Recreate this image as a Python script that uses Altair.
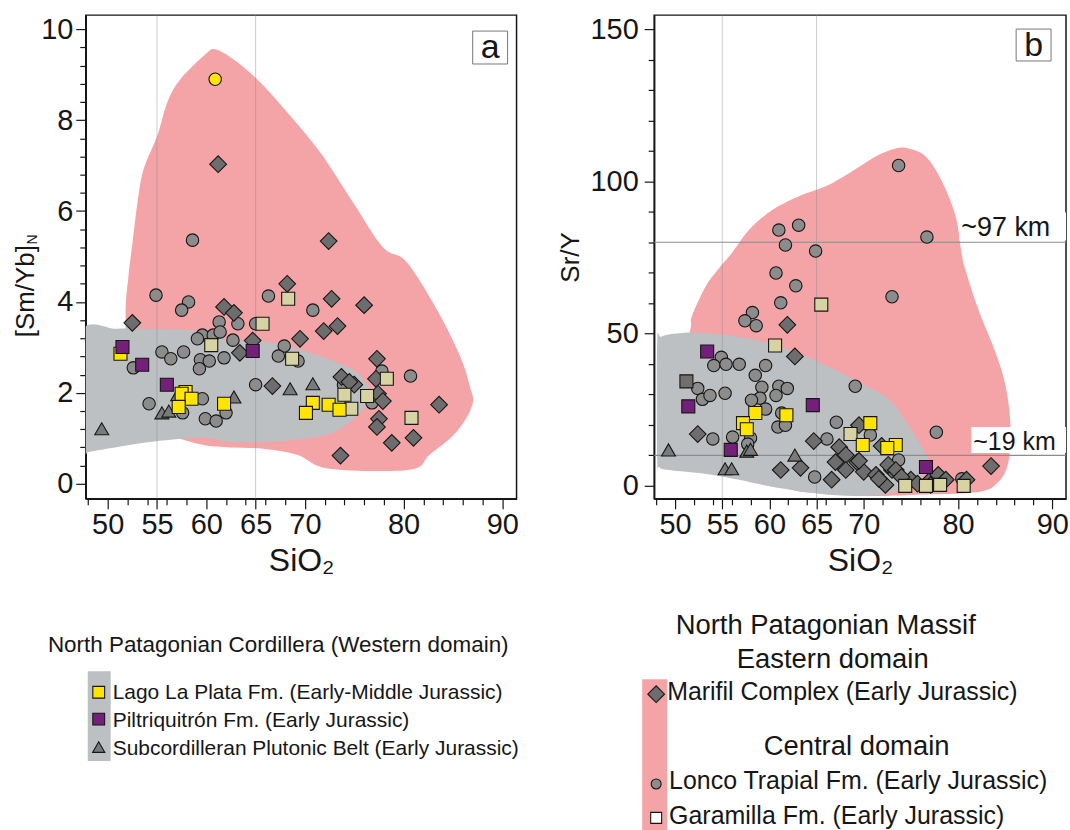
import altair as alt
import pandas as pd

FONT = "Liberation Sans"
INK = "#161616"
PINK = "#F4A3A6"
GREY_FIELD = "#BDC0C2"
C_LONCO = "#8C8C8C"
C_MARIFIL = "#6D6D6D"
C_GARAMILLA = "#D7D3A2"
C_LAGO = "#FFE500"
C_PILTRI = "#74207A"
C_SUBCORD = "#7A7A7A"
C_GREYSQ = "#6F6F6F"

# ---------------- axes ----------------
SIO2_DOMAIN = [47.78, 91.45]
SIO2_TICKS = [48, 50, 52, 54, 55, 56, 58, 60, 62, 64, 65, 66, 68, 70, 72, 74, 76, 78, 80, 82, 84, 86, 88, 90]
SIO2_LABELS = [50, 55, 60, 65, 70, 80, 90]
SIO2_GRID = [55, 65]

SMYB_DOMAIN = [-0.33, 10.31]
SMYB_TICKS = [0, 0.4, 0.8, 1.2, 1.6, 2, 2.4, 2.8, 3.2, 3.6, 4, 4.4, 4.8, 5.2, 5.6, 6,
              6.4, 6.8, 7.2, 7.6, 8, 8.4, 8.8, 9.2, 9.6, 10]
SMYB_LABELS = [0, 2, 4, 6, 8, 10]

SRY_DOMAIN = [-4.25, 154.6]
SRY_TICKS = [0, 10, 20, 30, 40, 50, 60, 70, 80, 90, 100, 110, 120, 130, 140, 150]
SRY_LABELS = [0, 50, 100, 150]

DEPTH_SRY = [80, 10]
DEPTH_LABELS = ["~97 km", "~19 km"]

# ---------------- panel a : [Sm/Yb]N vs SiO2 ----------------
A_EAST_FIELD_SIO2 = [60.91, 62.73, 65.15, 68.18, 71.52, 74.85, 77.88, 80.30, 83.33, 85.66, 86.67, 86.97,
                     85.35, 82.63, 80.61, 72.53, 69.19, 65.76, 62.42, 60.0, 57.5, 55.35, 52.32, 51.82,
                     52.12, 52.53, 53.03, 53.64, 55.05, 56.06, 57.37, 59.90]
A_EAST_FIELD_SMYB = [9.56, 9.34, 8.90, 8.18, 7.30, 6.20, 5.21, 4.88, 3.85, 2.84, 2.18, 1.74,
                     1.14, 0.64, 0.31, 0.33, 0.64, 0.77, 0.80, 0.84, 0.98, 1.14, 1.80, 3.63,
                     4.59, 5.32, 6.20, 6.92, 7.67, 8.40, 8.90, 9.45]
A_WEST_FIELD_SIO2 = [47.2, 51.01, 54.34, 59.39, 62.42, 65.76, 69.19, 72.53, 74.85, 75.86, 76.57, 76.26,
                     74.55, 72.53, 69.19, 65.76, 62.42, 59.39, 54.34, 51.01, 48.08, 47.2]
A_WEST_FIELD_SMYB = [3.27, 3.41, 3.41, 3.36, 3.16, 3.14, 2.97, 2.73, 2.51, 2.31, 2.02, 1.74,
                     1.36, 1.10, 0.97, 0.92, 0.92, 1.01, 0.92, 0.81, 0.70, 0.65]

A_LONCO_SIO2 = [58.6, 54.9, 58.2, 57.5, 61.3, 63.2, 65.0, 59.6, 59.1, 60.7, 61.4, 62.7, 52.6, 55.5, 56.4,
                57.7, 59.4, 59.3, 60.3, 61.8, 65.0, 59.6, 54.2, 57.6, 59.9, 61.0, 62.0, 66.3, 70.8, 67.9,
                67.3, 69.3, 73.9, 77.8, 76.8, 80.7]
A_LONCO_SMYB = [5.36, 4.15, 4.0, 3.82, 3.56, 3.52, 3.52, 3.27, 3.19, 3.27, 3.34, 3.16, 2.55, 2.9, 2.75,
                2.9, 2.73, 2.53, 2.7, 2.77, 2.18, 1.87, 1.76, 1.56, 1.43, 1.38, 1.56, 4.13, 3.82, 3.03,
                2.81, 2.7, 2.18, 2.48, 1.78, 2.37]
A_MARIFIL_SIO2 = [61.2, 72.4, 52.5, 61.8, 62.8, 63.4, 68.2, 72.7, 76.0, 71.9, 73.3, 69.5, 64.7, 66.7,
                  73.7, 75.0, 74.5, 77.3, 77.2, 77.4, 77.9, 77.5, 77.3, 83.6, 78.8, 81.0, 73.6]
A_MARIFIL_SMYB = [7.03, 5.34, 3.54, 3.89, 3.76, 2.88, 4.4, 4.07, 3.93, 3.36, 3.47, 3.19, 3.15, 2.15,
                  2.35, 2.18, 2.24, 2.75, 2.31, 1.98, 1.82, 1.43, 1.25, 1.74, 0.9, 1.01, 0.62]
A_GARAMILLA_SIO2 = [60.5, 68.3, 65.7, 68.7, 74.0, 74.7, 78.3, 76.3, 80.8]
A_GARAMILLA_SMYB = [3.05, 4.07, 3.52, 2.75, 1.96, 1.65, 2.31, 1.93, 1.45]
A_SUBCORD_SIO2 = [57.1, 55.5, 56.2, 62.8, 49.4, 68.5, 70.8]
A_SUBCORD_SMYB = [1.96, 1.56, 1.6, 1.91, 1.21, 2.09, 2.2]
A_LAGO_SIO2 = [51.3, 57.9, 57.5, 58.5, 57.2, 61.8, 70.8, 70.1, 72.4, 73.5]
A_LAGO_SMYB = [2.86, 2.02, 1.98, 1.87, 1.69, 1.76, 1.78, 1.56, 1.74, 1.63]
A_LAGO_CIRCLE_SIO2 = [60.9]
A_LAGO_CIRCLE_SMYB = [8.9]
A_PILTRI_SIO2 = [51.5, 53.5, 56.0, 64.7]
A_PILTRI_SMYB = [3.01, 2.62, 2.18, 2.92]

# ---------------- panel b : Sr/Y vs SiO2 ----------------
B_EAST_FIELD_SIO2 = [51.69, 51.80, 53.28, 54.66, 56.03, 57.83, 60.26, 63.12, 65.98, 68.41, 71.27, 73.39,
                     74.76, 76.56, 78.25, 79.74, 80.37, 80.79, 82.17, 83.97, 85.03, 85.56, 85.34, 84.29,
                     82.17, 75.50, 70.85, 66.30, 62.38, 58.89, 52.54, 51.48, 51.48]
B_EAST_FIELD_SRY = [52.6, 55.9, 65.7, 71.5, 76.5, 84.0, 90.5, 95.1, 98.4, 102.6, 108.2, 110.8,
                    110.8, 108.2, 100.3, 88.6, 76.5, 70.9, 57.8, 43.8, 33.0, 19.9, 7.8, 1.3,
                    -2.0, -2.9, -3.3, -2.6, -1.3, 4.6, 14.4, 27.5, 47.1]
B_WEST_FIELD_SIO2 = [48.10, 48.52, 50.11, 52.54, 56.03, 59.63, 63.12, 66.61, 69.47, 72.65, 74.76, 76.46,
                     76.88, 75.50, 73.17, 69.47, 65.24, 60.26, 56.77, 53.28, 49.37, 48.31, 48.10]
B_WEST_FIELD_SRY = [47.1, 49.0, 50.0, 50.3, 49.3, 47.1, 43.5, 38.6, 34.0, 28.4, 19.6, 11.1,
                    6.2, 1.3, -2.0, -3.3, -2.6, -0.3, 2.0, 3.9, 5.2, 6.2, 9.5]

B_LONCO_SIO2 = [73.7, 61.0, 63.1, 61.7, 64.9, 60.7, 62.8, 61.2, 73.0, 76.7, 58.2, 57.4, 58.6, 54.9, 54.1,
                55.4, 56.8, 59.6, 58.5, 52.4, 52.9, 53.7, 55.3, 59.2, 61.0, 61.9, 60.7, 59.0, 58.1, 59.6,
                61.3, 60.9, 61.7, 54.0, 56.1, 58.0, 57.7, 64.8, 67.1, 69.1, 66.1, 70.7, 77.7, 73.7, 80.4]
B_LONCO_SRY = [105.2, 84.0, 85.6, 79.1, 77.1, 69.9, 65.7, 60.1, 62.1, 81.7, 56.9, 54.2, 52.6, 42.2, 39.5,
               39.9, 39.9, 39.5, 36.3, 32.0, 28.4, 29.7, 30.4, 32.4, 32.7, 32.0, 29.7, 28.8, 28.1, 25.2,
               23.9, 19.3, 19.9, 15.4, 16.0, 15.7, 13.7, 2.9, 20.9, 32.7, 15.4, 16.7, 17.6, 8.5, 2.3]
B_MARIFIL_SIO2 = [61.9, 62.7, 52.4, 61.2, 63.3, 66.6, 64.7, 67.4, 68.1, 67.0, 68.1, 69.5, 71.9, 69.3,
                  70.0, 71.3, 72.3, 73.0, 83.5, 69.5, 71.6, 72.6, 73.4, 75.0, 74.0, 75.7, 77.1, 77.9,
                  78.7, 80.9, 77.1]
B_MARIFIL_SRY = [52.9, 42.5, 17.0, 5.2, 5.9, 2.0, 14.7, 12.7, 10.1, 7.8, 5.2, 19.9, 13.1, 7.8,
                 4.6, 3.6, 0.3, 5.2, 6.5, 8.2, 2.3, 6.9, 5.2, 2.0, 2.9, 0.7, 2.0, 3.6,
                 2.0, 2.0, 0.3]
B_GARAMILLA_SIO2 = [65.5, 60.6, 68.6, 74.4, 76.6, 78.1, 80.6]
B_GARAMILLA_SRY = [59.5, 46.1, 17.0, 0.0, 0.0, 0.3, 0.0]
B_SUBCORD_SIO2 = [57.6, 58.0, 49.3, 55.3, 56.0, 62.7]
B_SUBCORD_SRY = [11.4, 12.0, 11.8, 5.6, 5.6, 10.1]
B_LAGO_SIO2 = [61.8, 58.5, 57.2, 57.6, 70.7, 69.9, 73.4, 72.5]
B_LAGO_SRY = [23.2, 23.9, 20.6, 18.6, 20.6, 13.4, 13.4, 12.4]
B_PILTRI_SIO2 = [53.4, 51.4, 64.6, 55.9, 76.6]
B_PILTRI_SRY = [44.1, 26.1, 26.5, 11.8, 6.2]
B_GREYSQ_SIO2 = [51.2]
B_GREYSQ_SRY = [34.3]

# ---------------- legend texts ----------------
LEG_W_TITLE = "North Patagonian Cordillera (Western domain)"
LEG_W_ITEMS = ["Lago La Plata Fm. (Early-Middle Jurassic)",
               "Piltriquitrón Fm. (Early Jurassic)",
               "Subcordilleran Plutonic Belt (Early Jurassic)"]
LEG_E_HEAD = ["North Patagonian Massif", "Eastern domain"]
LEG_E_ITEMS = ["Marifil Complex (Early Jurassic)"]
LEG_C_HEAD = "Central domain"
LEG_C_ITEMS = ["Lonco Trapial Fm. (Early Jurassic)", "Garamilla Fm. (Early Jurassic)"]

ONE = pd.DataFrame({"k": [0]})


def lab_test(labels):
    return "indexof([" + ",".join(str(v) for v in labels) + "], datum.value) >= 0"


def make_axis(ticks, labels, **kw):
    t = lab_test(labels)
    return alt.Axis(values=ticks, labelExpr="(" + t + ") ? format(datum.value, 'd') : ''",
                    tickSize={"condition": {"test": t, "value": 10}, "value": 6},
                    labelOverlap=False, labelFlush=False, grid=False, **kw)


X_AXIS = make_axis(SIO2_TICKS, SIO2_LABELS, title="SiO₂", titleFontSize=32,
                   titlePadding=6, labelPadding=2)
X_SCALE = alt.Scale(domain=SIO2_DOMAIN, nice=False, zero=False)


def xenc():
    return alt.X("sio2:Q", scale=X_SCALE, axis=X_AXIS)


def txt(s, x, y, size, align="left", baseline="alphabetic", angle=None):
    kw = dict(text=s, font=FONT, fontSize=size, align=align, baseline=baseline, color=INK)
    if angle is not None:
        kw["angle"] = angle
    return alt.Chart(ONE).mark_text(**kw).encode(x=alt.value(x), y=alt.value(y))


def sym(shape, fill, x, y, size):
    return alt.Chart(ONE).mark_point(shape=shape, filled=True, fill=fill, stroke=INK,
                                     strokeWidth=1.1, size=size, opacity=1).encode(
        x=alt.value(x), y=alt.value(y))


def box(x1, x2, y1, y2, fill, stroke=None):
    kw = dict(fill=fill)
    if stroke:
        kw.update(stroke=stroke, strokeWidth=1)
    return alt.Chart(ONE).mark_rect(**kw).encode(
        x=alt.value(x1), x2=alt.value(x2), y=alt.value(y1), y2=alt.value(y2))


def build_panel(Y, fields, series, extra, width, height):
    layers = []
    for xs, ys, color in fields:
        df = pd.DataFrame({"sio2": xs, "v": ys, "i": list(range(len(xs)))})
        layers.append(alt.Chart(df).mark_line(filled=True, color=color,
                                              interpolate="cardinal-closed", clip=True)
                      .encode(x=xenc(), y=Y, order="i:Q"))
    layers.append(alt.Chart(pd.DataFrame({"sio2": SIO2_GRID}))
                  .mark_rule(color="#8a8a8a", opacity=0.45, strokeWidth=1)
                  .encode(x=xenc()))
    layers += extra[0]
    for xs, ys, shape, fill, size in series:
        df = pd.DataFrame({"sio2": xs, "v": ys})
        layers.append(alt.Chart(df).mark_point(shape=shape, filled=True, fill=fill, stroke=INK,
                                               strokeWidth=1.1, size=size, opacity=1)
                      .encode(x=xenc(), y=Y))
    layers += extra[1]
    return alt.layer(*layers).properties(width=width, height=height)


# ---------- panel a ----------
YA = alt.Y("v:Q", scale=alt.Scale(domain=SMYB_DOMAIN, nice=False, zero=False),
           axis=make_axis(SMYB_TICKS, SMYB_LABELS, title=None, labelPadding=3))

legend_layers = [
    txt(LEG_W_TITLE, 193, 639, 22.5, align="center"),
    box(2, 25, 658, 748, GREY_FIELD),
    sym("square", C_LAGO, 13, 679, 140),
    sym("square", C_PILTRI, 13, 706, 140),
    sym("triangle-up", C_SUBCORD, 13, 734, 150),
    txt(LEG_W_ITEMS[0], 27, 686, 21),
    txt(LEG_W_ITEMS[1], 27, 714, 21),
    txt(LEG_W_ITEMS[2], 27, 742, 21),
    txt(LEG_E_HEAD[0], 742, 621, 27.5, align="center"),
    txt(LEG_E_HEAD[1], 749, 655, 27.5, align="center"),
    box(558, 583, 666, 818, PINK),
    sym("diamond", C_MARIFIL, 572, 681, 280),
    txt(LEG_E_ITEMS[0], 583, 687, 25),
    txt(LEG_C_HEAD, 773, 742, 27.5, align="center"),
    sym("circle", C_LONCO, 572, 771, 100),
    txt(LEG_C_ITEMS[0], 585, 776, 25),
    sym("square", "#ffffff", 572, 805, 120),
    txt(LEG_C_ITEMS[1], 585, 811, 25),
]

a_extra_top = [
    box(388, 423, 16, 49, "#ffffff", "#777777"),
    txt("a", 405.5, 43, 34, align="center"),
    txt("[Sm/Yb]", -60, 323, 26, align="left", baseline="middle", angle=270),
    txt("N", -53, 230, 14, align="left", baseline="middle", angle=270),
] + legend_layers

panel_a = build_panel(
    YA,
    [(A_EAST_FIELD_SIO2, A_EAST_FIELD_SMYB, PINK), (A_WEST_FIELD_SIO2, A_WEST_FIELD_SMYB, GREY_FIELD)],
    [
        (A_LONCO_SIO2, A_LONCO_SMYB, "circle", C_LONCO, 155),
        (A_MARIFIL_SIO2, A_MARIFIL_SMYB, "diamond", C_MARIFIL, 280),
        (A_GARAMILLA_SIO2, A_GARAMILLA_SMYB, "square", C_GARAMILLA, 170),
        (A_SUBCORD_SIO2, A_SUBCORD_SMYB, "triangle-up", C_SUBCORD, 196),
        (A_LAGO_SIO2, A_LAGO_SMYB, "square", C_LAGO, 170),
        (A_LAGO_CIRCLE_SIO2, A_LAGO_CIRCLE_SMYB, "circle", C_LAGO, 155),
        (A_PILTRI_SIO2, A_PILTRI_SMYB, "square", C_PILTRI, 170),
    ],
    ([], a_extra_top),
    432, 485,
)

# ---------- panel b ----------
YB = alt.Y("v:Q", scale=alt.Scale(domain=SRY_DOMAIN, nice=False, zero=False),
           axis=make_axis(SRY_TICKS, SRY_LABELS, title="Sr/Y", titleFontSize=26,
                          titlePadding=6, labelPadding=6))

depth_df = pd.DataFrame({"v": DEPTH_SRY, "label": DEPTH_LABELS})
b_extra_under = [
    alt.Chart(depth_df).mark_rule(color="#8c8c8c", strokeWidth=1.2).encode(y=YB),
    box(306, 413, 198, 226, "#ffffff"),
    box(318, 413, 413, 439, "#ffffff"),
    txt(DEPTH_LABELS[0], 308, 221, 27),
    txt(DEPTH_LABELS[1], 320, 436, 25),
]
b_extra_top = [
    box(363, 398, 14, 46, "#ffffff", "#777777"),
    txt("b", 380.5, 41, 34, align="center"),
]

panel_b = build_panel(
    YB,
    [(B_EAST_FIELD_SIO2, B_EAST_FIELD_SRY, PINK), (B_WEST_FIELD_SIO2, B_WEST_FIELD_SRY, GREY_FIELD)],
    [
        (B_LONCO_SIO2, B_LONCO_SRY, "circle", C_LONCO, 155),
        (B_MARIFIL_SIO2, B_MARIFIL_SRY, "diamond", C_MARIFIL, 280),
        (B_GARAMILLA_SIO2, B_GARAMILLA_SRY, "square", C_GARAMILLA, 170),
        (B_SUBCORD_SIO2, B_SUBCORD_SRY, "triangle-up", C_SUBCORD, 196),
        (B_LAGO_SIO2, B_LAGO_SRY, "square", C_LAGO, 170),
        (B_PILTRI_SIO2, B_PILTRI_SRY, "square", C_PILTRI, 170),
        (B_GREYSQ_SIO2, B_GREYSQ_SRY, "square", C_GREYSQ, 170),
    ],
    (b_extra_under, b_extra_top),
    413, 485,
)

chart = (
    alt.hconcat(panel_a, panel_b, spacing=138, bounds="flush")
    .properties(padding={"left": 12, "top": 12, "right": 0, "bottom": 0}, background="white")
    .configure_view(stroke=INK, strokeWidth=1.5)
    .configure_axis(labelFont=FONT, titleFont=FONT, labelFontSize=29, labelColor=INK,
                    titleColor=INK, titleFontWeight="normal", domainColor=INK, domainWidth=1.5,
                    tickColor=INK, tickWidth=1.2)
)

chart.save("out.html", embed_options={"renderer": "svg", "actions": False})
